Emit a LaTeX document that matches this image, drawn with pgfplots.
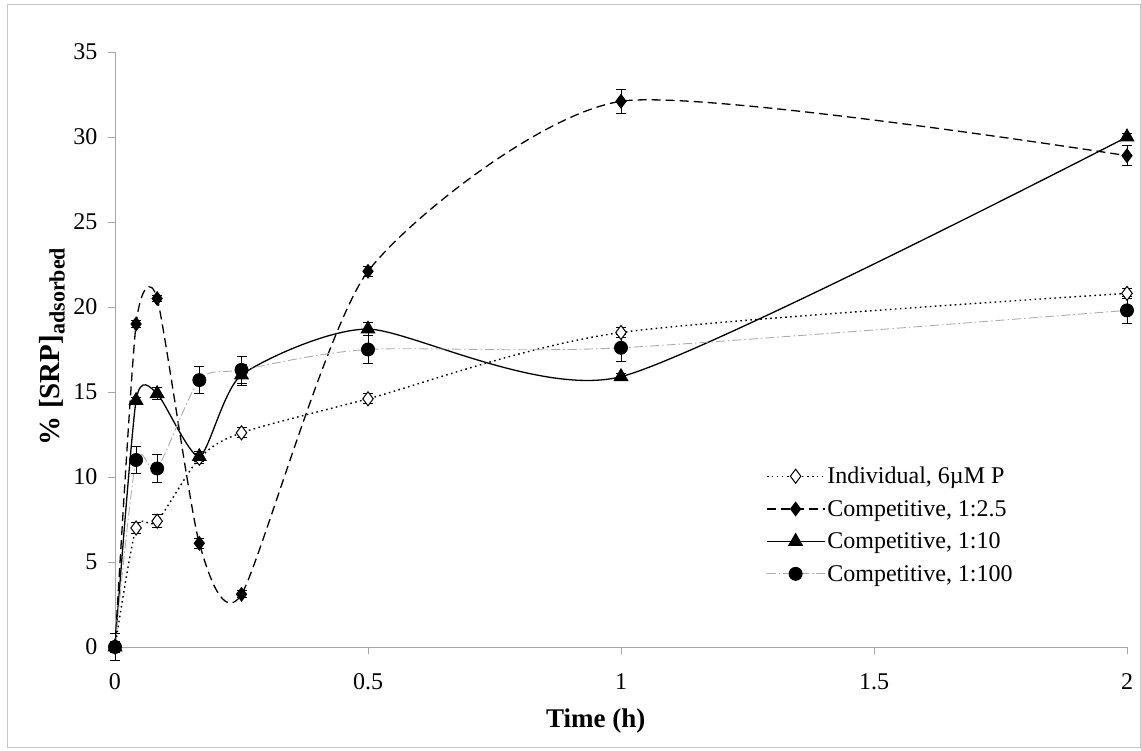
\documentclass[border=0pt]{standalone}
\usepackage{fontspec}
\setmainfont{Liberation Serif}
\usepackage{pgfplots}
\pgfplotsset{compat=1.18}
\begin{document}
\begin{tikzpicture}
\useasboundingbox (0pt,0pt) rectangle (1141pt,751pt);
\draw[gray!45, line width=1pt] (7pt,3pt) rectangle (1140pt,746pt);
\begin{axis}[
  at={(115pt,104pt)}, anchor=south west,
  scale only axis, width=1012pt, height=595pt,
  xmin=0, xmax=2, ymin=0, ymax=35,
  axis x line*=bottom, axis y line*=left,
  axis line style={gray!70, line width=0.8pt},
  xtick={0,0.5,1,1.5,2}, ytick={0,5,...,35},
  xticklabels={0,0.5,1,1.5,2},
  tick align=outside, major tick length=7pt,
  tick style={gray!70, line width=0.8pt},
  ticklabel style={font=\fontsize{24}{28}\selectfont},
  yticklabel style={xshift=-7pt},
  xticklabel style={yshift=-16pt},
  /pgf/number format/assume math mode=true,
  xlabel={\textbf{Time (h)}},
  ylabel={\textbf{\% [SRP]\raisebox{-5pt}{\fontsize{22}{26}\selectfont adsorbed}}},
  xlabel style={font=\fontsize{27}{31}\selectfont, at={(axis description cs:0.475,-0.125)}, anchor=center},
  ylabel style={font=\fontsize{29}{33}\selectfont, at={(axis description cs:-0.062,0.505)}, anchor=center},
  legend style={at={(axis description cs:0.643,0.306)}, anchor=north west,
    draw=none, fill=none, font=\fontsize{24}{28}\selectfont,
    row sep=11pt, inner sep=0pt, legend cell align=left},
  legend image code/.code={\draw[mark repeat=2,mark phase=2] plot coordinates {(0pt,0pt) (29pt,0pt) (58pt,0pt)};},
  clip=false,
  error bars/error bar style={solid, black, line width=1pt},
  error bars/error mark options={rotate=90, mark size=5pt, line width=1pt, black, solid},
]
% Individual, 6uM P
\addplot[black, line width=1.4pt, dash pattern=on 1.6pt off 3.4pt, smooth, tension=0.45,
  mark=diamond*, mark size=7pt, mark options={solid, fill=white, line width=1pt},
  error bars/.cd, y dir=both, y explicit]
  coordinates {
  (0,0) +- (0,0.3)
  (0.04167,7.0) +- (0,0.3)
  (0.08333,7.4) +- (0,0.4)
  (0.16667,11.1) +- (0,0.3)
  (0.25,12.6) +- (0,0.3)
  (0.5,14.6) +- (0,0.3)
  (1,18.5) +- (0,0.3)
  (2,20.8) +- (0,0.3)
  };
\addlegendentry{Individual, 6µM P}
% Competitive 1:2.5
\addplot[black, line width=1.3pt, dash pattern=on 9pt off 5pt, smooth, tension=0.38,
  mark=diamond*, mark size=6.5pt, mark options={solid},
  error bars/.cd, y dir=both, y explicit]
  coordinates {
  (0,0) +- (0,0.3)
  (0.04167,19.0) +- (0,0.2)
  (0.08333,20.5) +- (0,0.2)
  (0.16667,6.1) +- (0,0.3)
  (0.25,3.1) +- (0,0.2)
  (0.5,22.1) +- (0,0.3)
  (1,32.1) +- (0,0.7)
  (2,28.9) +- (0,0.6)
  };
\addlegendentry{Competitive, 1:2.5}
% Competitive 1:10
\addplot[black, line width=1.3pt, solid, smooth, tension=0.38,
  mark=triangle*, mark size=7.5pt, mark options={solid},
  error bars/.cd, y dir=both, y explicit]
  coordinates {
  (0,0) +- (0,0.8)
  (0.04167,14.5) +- (0,0.2)
  (0.08333,14.9) +- (0,0.35)
  (0.16667,11.2) +- (0,0.3)
  (0.25,16.0) +- (0,0.6)
  (0.5,18.7) +- (0,0.4)
  (1,15.9) +- (0,0.2)
  (2,30.0) +- (0,0.2)
  };
\addlegendentry{Competitive, 1:10}
% Competitive 1:100
\addplot[gray!65, line width=0.9pt, dash pattern=on 9pt off 3pt on 1.5pt off 3pt, smooth, tension=0.45,
  mark=*, mark size=6.5pt, mark options={solid, black},
  error bars/.cd, y dir=both, y explicit]
  coordinates {
  (0,0) +- (0,0.3)
  (0.04167,11.0) +- (0,0.8)
  (0.08333,10.5) +- (0,0.8)
  (0.16667,15.7) +- (0,0.8)
  (0.25,16.3) +- (0,0.8)
  (0.5,17.5) +- (0,0.8)
  (1,17.6) +- (0,0.8)
  (2,19.8) +- (0,0.8)
  };
\addlegendentry{Competitive, 1:100}
\end{axis}
\end{tikzpicture}
\end{document}
